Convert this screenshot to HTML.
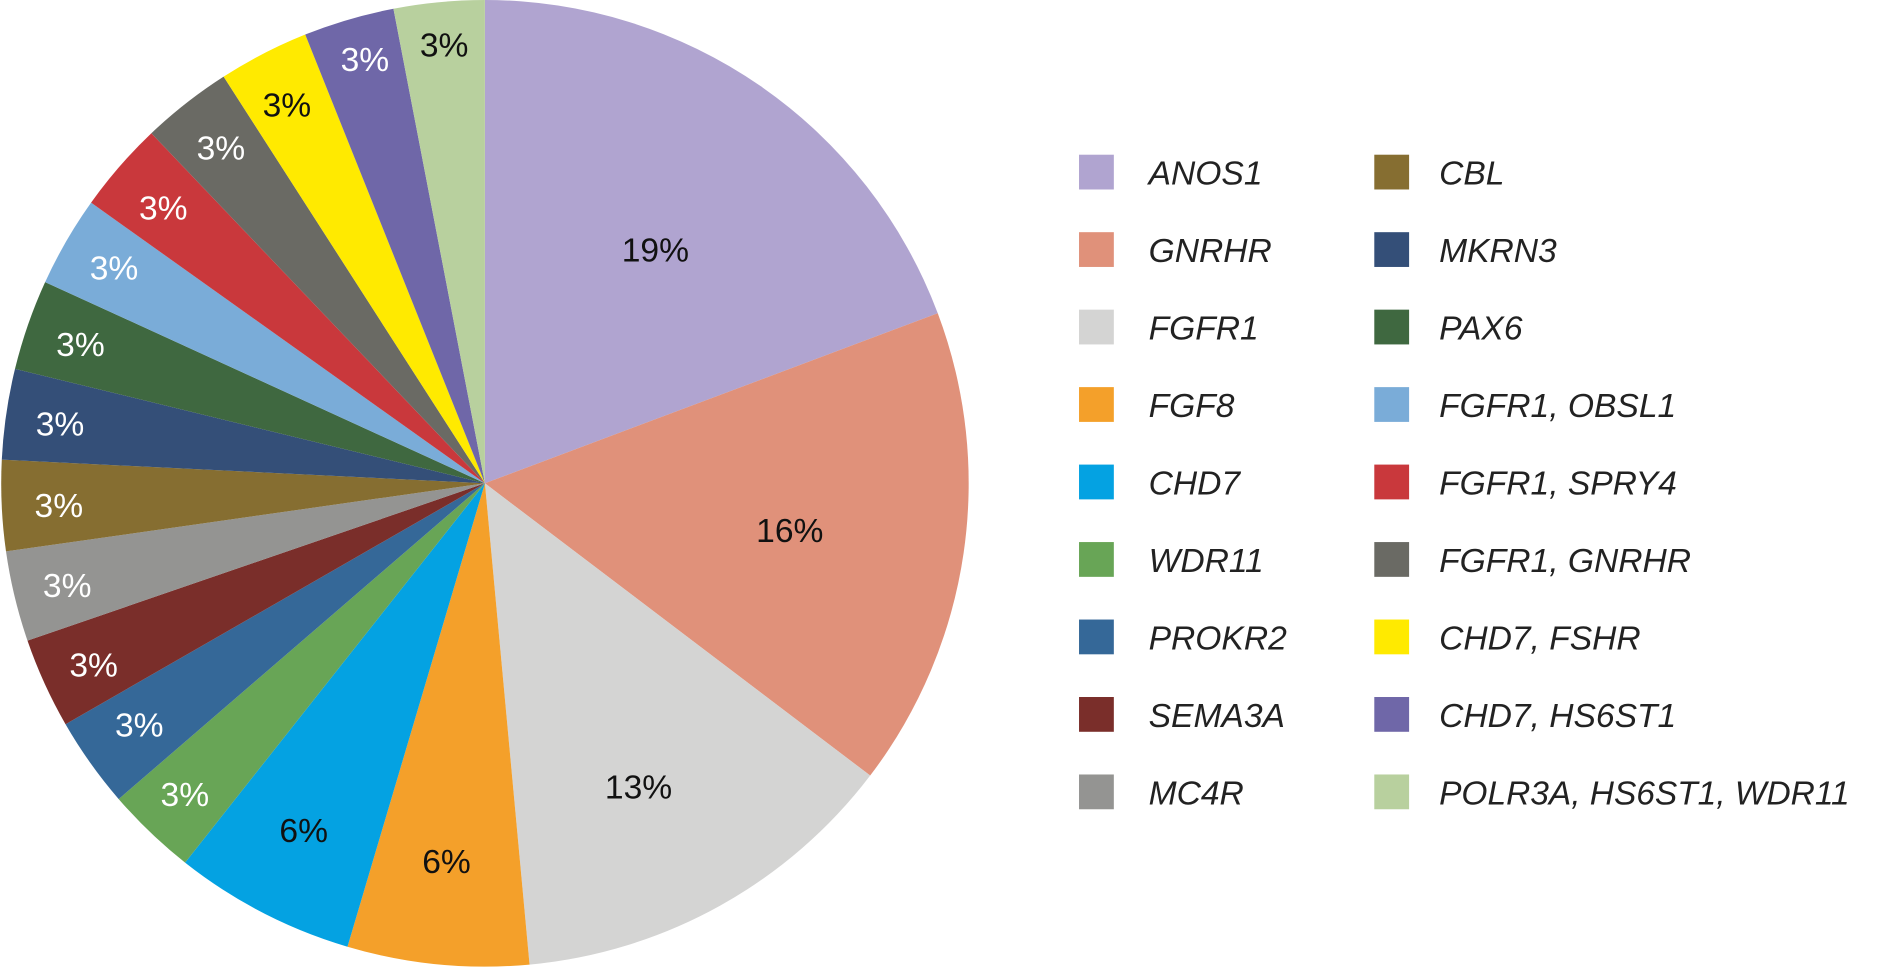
<!DOCTYPE html>
<html><head><meta charset="utf-8"><style>
html,body{margin:0;padding:0;background:#fff;}
svg{display:block}
text{font-family:"Liberation Sans",sans-serif;}
</style></head><body>
<svg width="1882" height="969" viewBox="0 0 1568 808" preserveAspectRatio="none" xmlns="http://www.w3.org/2000/svg">
<g>
<path d="M404,403L404,0A403,403 0 0 1 781.3,261.2Z" fill="#b0a4d0"/>
<path d="M404,403L781.3,261.2A403,403 0 0 1 725,646.7Z" fill="#e0917a"/>
<path d="M404,403L725,646.7A403,403 0 0 1 441.2,804.3Z" fill="#d4d4d3"/>
<path d="M404,403L441.2,804.3A403,403 0 0 1 289.5,789.4Z" fill="#f4a02a"/>
<path d="M404,403L289.5,789.4A403,403 0 0 1 154.2,719.3Z" fill="#04a2e2"/>
<path d="M404,403L154.2,719.3A403,403 0 0 1 98.9,666.3Z" fill="#68a556"/>
<path d="M404,403L98.9,666.3A403,403 0 0 1 54.6,603.9Z" fill="#356898"/>
<path d="M404,403L54.6,603.9A403,403 0 0 1 22.9,534.2Z" fill="#7a2e2a"/>
<path d="M404,403L22.9,534.2A403,403 0 0 1 5,459.8Z" fill="#949492"/>
<path d="M404,403L5,459.8A403,403 0 0 1 1.5,383.3Z" fill="#866e31"/>
<path d="M404,403L1.5,383.3A403,403 0 0 1 12.5,307.6Z" fill="#344f78"/>
<path d="M404,403L12.5,307.6A403,403 0 0 1 37.6,235.2Z" fill="#3f6840"/>
<path d="M404,403L37.6,235.2A403,403 0 0 1 75.9,169Z" fill="#7aacd8"/>
<path d="M404,403L75.9,169A403,403 0 0 1 126.1,111.1Z" fill="#c9383c"/>
<path d="M404,403L126.1,111.1A403,403 0 0 1 186.3,63.9Z" fill="#6a6a64"/>
<path d="M404,403L186.3,63.9A403,403 0 0 1 254.3,28.8Z" fill="#ffea00"/>
<path d="M404,403L254.3,28.8A403,403 0 0 1 327.8,7.3Z" fill="#6f67a8"/>
<path d="M404,403L327.8,7.3A403,403 0 0 1 404,0Z" fill="#b8d09e"/>
</g>
<g font-size="28" text-anchor="middle">
<text x="546" y="218" fill="#111">19%</text>
<text x="658" y="452" fill="#111">16%</text>
<text x="532" y="666" fill="#111">13%</text>
<text x="372" y="728" fill="#111">6%</text>
<text x="253" y="702" fill="#111">6%</text>
<text x="154" y="672" fill="#fff">3%</text>
<text x="116" y="614" fill="#fff">3%</text>
<text x="78" y="564" fill="#fff">3%</text>
<text x="56" y="498" fill="#fff">3%</text>
<text x="49" y="431" fill="#fff">3%</text>
<text x="50" y="363" fill="#fff">3%</text>
<text x="67" y="297" fill="#fff">3%</text>
<text x="95" y="233" fill="#fff">3%</text>
<text x="136" y="183" fill="#fff">3%</text>
<text x="184" y="133" fill="#fff">3%</text>
<text x="239" y="97" fill="#111">3%</text>
<text x="304" y="59" fill="#fff">3%</text>
<text x="370" y="47" fill="#111">3%</text>
</g>
<g font-size="28" font-style="italic" fill="#222">
<rect x="899" y="129" width="29" height="29" fill="#b0a4d0"/><text x="957" y="154">ANOS1</text>
<rect x="899" y="193.6" width="29" height="29" fill="#e0917a"/><text x="957" y="218.6">GNRHR</text>
<rect x="899" y="258.2" width="29" height="29" fill="#d4d4d3"/><text x="957" y="283.2">FGFR1</text>
<rect x="899" y="322.8" width="29" height="29" fill="#f4a02a"/><text x="957" y="347.8">FGF8</text>
<rect x="899" y="387.4" width="29" height="29" fill="#04a2e2"/><text x="957" y="412.4">CHD7</text>
<rect x="899" y="452" width="29" height="29" fill="#68a556"/><text x="957" y="477">WDR11</text>
<rect x="899" y="516.6" width="29" height="29" fill="#356898"/><text x="957" y="541.6">PROKR2</text>
<rect x="899" y="581.2" width="29" height="29" fill="#7a2e2a"/><text x="957" y="606.2">SEMA3A</text>
<rect x="899" y="645.8" width="29" height="29" fill="#949492"/><text x="957" y="670.8">MC4R</text>
<rect x="1145" y="129" width="29" height="29" fill="#866e31"/><text x="1199" y="154">CBL</text>
<rect x="1145" y="193.6" width="29" height="29" fill="#344f78"/><text x="1199" y="218.6">MKRN3</text>
<rect x="1145" y="258.2" width="29" height="29" fill="#3f6840"/><text x="1199" y="283.2">PAX6</text>
<rect x="1145" y="322.8" width="29" height="29" fill="#7aacd8"/><text x="1199" y="347.8">FGFR1, OBSL1</text>
<rect x="1145" y="387.4" width="29" height="29" fill="#c9383c"/><text x="1199" y="412.4">FGFR1, SPRY4</text>
<rect x="1145" y="452" width="29" height="29" fill="#6a6a64"/><text x="1199" y="477">FGFR1, GNRHR</text>
<rect x="1145" y="516.6" width="29" height="29" fill="#ffea00"/><text x="1199" y="541.6">CHD7, FSHR</text>
<rect x="1145" y="581.2" width="29" height="29" fill="#6f67a8"/><text x="1199" y="606.2">CHD7, HS6ST1</text>
<rect x="1145" y="645.8" width="29" height="29" fill="#b8d09e"/><text x="1199" y="670.8" textLength="342" lengthAdjust="spacingAndGlyphs">POLR3A, HS6ST1, WDR11</text>
</g>
</svg>
</body></html>
